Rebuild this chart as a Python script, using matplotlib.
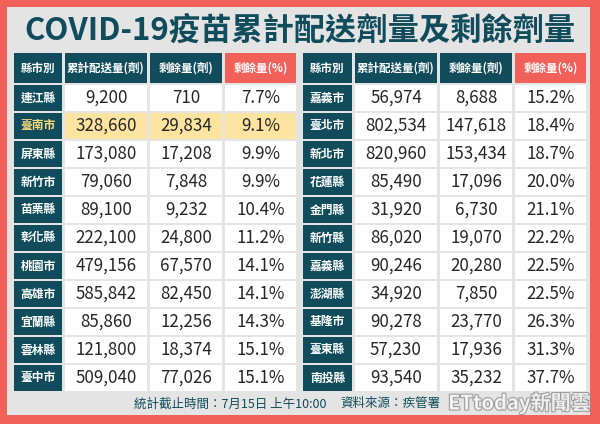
import matplotlib
matplotlib.use("Agg")
import matplotlib.pyplot as plt
from matplotlib.patches import Rectangle
import matplotlib.patheffects as pe

plt.rcParams['font.family'] = ['Noto Sans CJK TC', 'DejaVu Sans']

# --- data ---
title = "COVID-19疫苗累計配送劑量及剩餘劑量"
headers = ["縣市別", "累計配送量(劑)", "剩餘量(劑)", "剩餘量(%)"]

left_names = ["連江縣", "臺南市", "屏東縣", "新竹市", "苗栗縣", "彰化縣",
              "桃園市", "高雄市", "宜蘭縣", "雲林縣", "臺中市"]
left_sent = [9200, 328660, 173080, 79060, 89100, 222100,
             479156, 585842, 85860, 121800, 509040]
left_left = [710, 29834, 17208, 7848, 9232, 24800,
             67570, 82450, 12256, 18374, 77026]
left_pct = [7.7, 9.1, 9.9, 9.9, 10.4, 11.2, 14.1, 14.1, 14.3, 15.1, 15.1]

right_names = ["嘉義市", "臺北市", "新北市", "花蓮縣", "金門縣", "新竹縣",
               "嘉義縣", "澎湖縣", "基隆市", "臺東縣", "南投縣"]
right_sent = [56974, 802534, 820960, 85490, 31920, 86020,
              90246, 34920, 90278, 57230, 93540]
right_left = [8688, 147618, 153434, 17096, 6730, 19070,
              20280, 7850, 23770, 17936, 35232]
right_pct = [15.2, 18.4, 18.7, 20.0, 21.1, 22.2, 22.5, 22.5, 26.3, 31.3, 37.7]

highlight = "臺南市"
footer_time = "統計截止時間：7月15日 上午10:00"
footer_src = "資料來源：疾管署"

# --- colours ---
RED = "#F2605A"
PANEL = "#E4E4E4"
TEAL = "#104C5C"
YELLOW = "#FCE4A0"
TXT = "#262626"

W, H = 600, 424
fig = plt.figure(figsize=(W / 100, H / 100), dpi=100)
fig.patch.set_facecolor(RED)
ax = fig.add_axes([0, 0, 1, 1])
ax.set_xlim(0, W)
ax.set_ylim(H, 0)
ax.axis('off')

ax.add_patch(Rectangle((7, 7), 583, 408, color=PANEL, lw=0))
ax.text(300, 31, title, ha='center', va='center', fontsize=22.5,
        fontweight='bold', color=TEAL)

head_top, head_h = 53, 30
row_top, row_h, pitch = 85, 26, 28


def draw_table(cols, names, sent, left, pct):
    # header row
    for i, (x0, x1) in enumerate(cols):
        fc = RED if i == 3 else TEAL
        ax.add_patch(Rectangle((x0, head_top), x1 - x0, head_h, color=fc, lw=0))
        ax.text((x0 + x1) / 2, head_top + head_h / 2, headers[i], ha='center',
                va='center', fontsize=8.3, fontweight='bold', color='white')
    for r, name in enumerate(names):
        y = row_top + r * pitch
        hl = name == highlight
        cells = [name, f"{sent[r]:,}", f"{left[r]:,}", f"{pct[r]:.1f}%"]
        for i, (x0, x1) in enumerate(cols):
            if i == 0:
                fc, tc, fs, fw = TEAL, ("#F6D77C" if hl else 'white'), 8.5, 'bold'
            else:
                fc, tc, fs, fw = (YELLOW if hl else 'white'), TXT, 12.2, 'medium'
            ax.add_patch(Rectangle((x0, y), x1 - x0, row_h, color=fc, lw=0))
            ax.text((x0 + x1) / 2, y + row_h / 2, cells[i], ha='center',
                    va='center', fontsize=fs, fontweight=fw, color=tc)


draw_table([(14, 62), (65, 147), (150, 222), (225, 296)],
           left_names, left_sent, left_left, left_pct)
draw_table([(303, 352), (355, 437), (440, 512), (515, 586)],
           right_names, right_sent, right_left, right_pct)

# footer
ax.text(134, 404, footer_time, ha='left', va='center', fontsize=9, color=TEAL)
ax.text(340, 404, footer_src, ha='left', va='center', fontsize=9, color=TEAL)
ax.text(591, 403, "ETtoday新聞雲", ha='right', va='center', fontsize=14.5,
        fontweight='bold', color='white', alpha=0.8,
        path_effects=[pe.withStroke(linewidth=1.5, foreground='#8A8A8A')])

fig.savefig("out.png", dpi=100, facecolor=fig.get_facecolor())
